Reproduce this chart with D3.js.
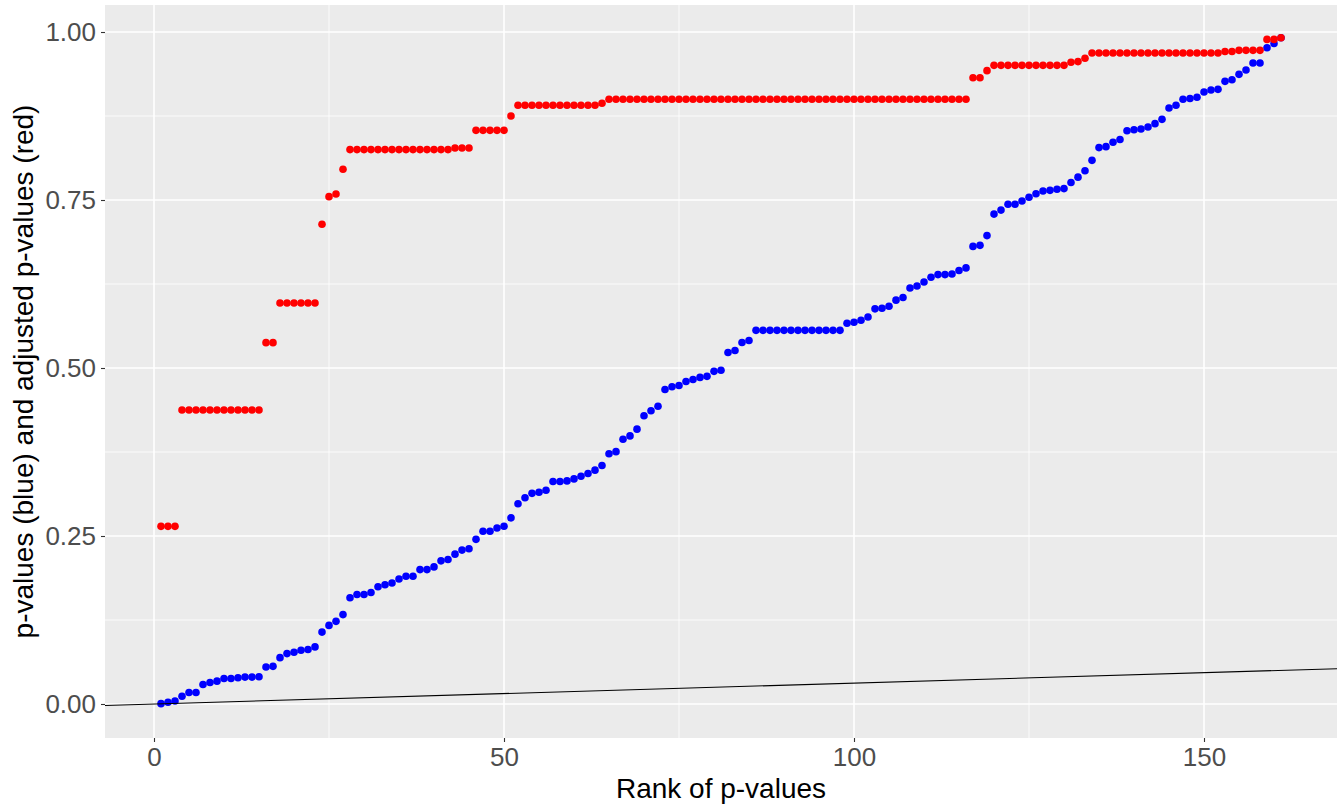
<!DOCTYPE html>
<html>
<head>
<meta charset="utf-8">
<script src="https://cdn.jsdelivr.net/npm/d3@7"></script>
<style>
  html, body { margin: 0; padding: 0; background: #ffffff; }
  svg { display: block; }
  text { font-family: "Liberation Sans", Arial, sans-serif; }
</style>
</head>
<body>
<svg id="chart" width="1342" height="805"></svg>
<script>
// p-values (blue), sorted, rank 1..161
const pValues = [
  0.0005, 0.0025, 0.0045, 0.0115, 0.017, 0.017, 0.029, 0.032, 0.034, 0.038,
  0.038, 0.039, 0.040, 0.040, 0.0405, 0.055, 0.056, 0.069, 0.075, 0.077,
  0.080, 0.081, 0.085, 0.107, 0.117, 0.123, 0.133, 0.158, 0.163, 0.163,
  0.166, 0.1745, 0.1775, 0.180, 0.186, 0.190, 0.190, 0.200, 0.200, 0.204,
  0.213, 0.215, 0.223, 0.229, 0.231, 0.245, 0.257, 0.257, 0.262, 0.2645,
  0.277, 0.298, 0.307, 0.3135, 0.315, 0.318, 0.331, 0.331, 0.332, 0.335,
  0.339, 0.343, 0.348, 0.355, 0.3725, 0.3755, 0.394, 0.399, 0.409, 0.429,
  0.4365, 0.443, 0.468, 0.472, 0.474, 0.480, 0.483, 0.486, 0.4876, 0.495,
  0.4966, 0.523, 0.526, 0.538, 0.541, 0.556, 0.556, 0.556, 0.556, 0.556,
  0.556, 0.556, 0.556, 0.556, 0.556, 0.556, 0.556, 0.556, 0.5665, 0.568,
  0.571, 0.576, 0.588, 0.589, 0.592, 0.601, 0.605, 0.619, 0.622, 0.628,
  0.635, 0.639, 0.639, 0.640, 0.645, 0.649, 0.681, 0.6825, 0.697, 0.729,
  0.735, 0.7436, 0.7436, 0.7485, 0.754, 0.7594, 0.7634, 0.7644, 0.766, 0.767,
  0.776, 0.784, 0.7936, 0.809, 0.828, 0.8294, 0.836, 0.840, 0.853, 0.8546,
  0.8557, 0.8586, 0.8636, 0.870, 0.887, 0.891, 0.900, 0.901, 0.903, 0.9107,
  0.9137, 0.9147, 0.9266, 0.929, 0.937, 0.9435, 0.954, 0.954, 0.9766, 0.983,
  0.9915
];

// adjusted p-values (red), rank 1..161
const adjValues = [
  0.2644, 0.2644, 0.2644, 0.4375, 0.4375, 0.4375, 0.4375, 0.4375, 0.4375, 0.4375,
  0.4375, 0.4375, 0.4375, 0.4375, 0.4375, 0.5377, 0.5377, 0.5967, 0.5967, 0.5967,
  0.5967, 0.5967, 0.5967, 0.714, 0.755, 0.759, 0.7957, 0.825, 0.825, 0.825,
  0.825, 0.825, 0.825, 0.825, 0.825, 0.825, 0.825, 0.825, 0.825, 0.825,
  0.825, 0.825, 0.8274, 0.8274, 0.8274, 0.8537, 0.8537, 0.8537, 0.8537, 0.8537,
  0.875, 0.891, 0.891, 0.891, 0.891, 0.891, 0.891, 0.891, 0.891, 0.891,
  0.891, 0.891, 0.891, 0.894, 0.900, 0.900, 0.900, 0.900, 0.900, 0.900,
  0.900, 0.900, 0.900, 0.900, 0.900, 0.900, 0.900, 0.900, 0.900, 0.900,
  0.900, 0.900, 0.900, 0.900, 0.900, 0.900, 0.900, 0.900, 0.900, 0.900,
  0.900, 0.900, 0.900, 0.900, 0.900, 0.900, 0.900, 0.900, 0.900, 0.900,
  0.900, 0.900, 0.900, 0.900, 0.900, 0.900, 0.900, 0.900, 0.900, 0.900,
  0.900, 0.900, 0.900, 0.900, 0.900, 0.900, 0.932, 0.932, 0.9425, 0.9504,
  0.9504, 0.9504, 0.9504, 0.9504, 0.9504, 0.9504, 0.9504, 0.9504, 0.9504, 0.9504,
  0.955, 0.956, 0.961, 0.9688, 0.9688, 0.9688, 0.9688, 0.9688, 0.9688, 0.9688,
  0.9688, 0.9688, 0.9688, 0.9688, 0.9688, 0.9688, 0.9688, 0.9688, 0.9688, 0.9688,
  0.9688, 0.9688, 0.971, 0.971, 0.9727, 0.9727, 0.9727, 0.9727, 0.989, 0.989,
  0.9915
];

const xTicks = [0, 50, 100, 150];
const xMinor = [25, 75, 125];
const yTicks = [0, 0.25, 0.5, 0.75, 1.0];
const yMinor = [0.125, 0.375, 0.625, 0.875];
const yTickLabels = ["0.00", "0.25", "0.50", "0.75", "1.00"];
const xTitle = "Rank of p-values";
const yTitle = "p-values (blue) and adjusted p-values (red)";
const alpha = 0.05; // reference line slope numerator: alpha / n

const n = pValues.length;
const svg = d3.select("#chart");

const panel = { left: 105, right: 1337, top: 5, bottom: 738 };
const x = d3.scaleLinear().domain([-7, 169]).range([panel.left, panel.right]);
const y = d3.scaleLinear().domain([-0.0506, 1.0402]).range([panel.bottom, panel.top]);

// panel background
svg.append("rect")
  .attr("x", panel.left).attr("y", panel.top)
  .attr("width", panel.right - panel.left).attr("height", panel.bottom - panel.top)
  .attr("fill", "#EBEBEB");

const grid = svg.append("g");
grid.selectAll(".yminor").data(yMinor).join("line")
  .attr("x1", panel.left).attr("x2", panel.right)
  .attr("y1", d => y(d)).attr("y2", d => y(d))
  .attr("stroke", "#ffffff").attr("stroke-width", 0.8);
grid.selectAll(".xminor").data(xMinor).join("line")
  .attr("y1", panel.top).attr("y2", panel.bottom)
  .attr("x1", d => x(d)).attr("x2", d => x(d))
  .attr("stroke", "#ffffff").attr("stroke-width", 0.8);
grid.selectAll(".ymajor").data(yTicks).join("line")
  .attr("x1", panel.left).attr("x2", panel.right)
  .attr("y1", d => y(d)).attr("y2", d => y(d))
  .attr("stroke", "#ffffff").attr("stroke-width", 1.6);
grid.selectAll(".xmajor").data(xTicks).join("line")
  .attr("y1", panel.top).attr("y2", panel.bottom)
  .attr("x1", d => x(d)).attr("x2", d => x(d))
  .attr("stroke", "#ffffff").attr("stroke-width", 1.6);

// axes
const xAxis = d3.axisBottom(x).tickValues(xTicks).tickSize(4).tickPadding(6).tickFormat(d3.format("d"));
const yAxis = d3.axisLeft(y).tickValues(yTicks).tickSize(4).tickPadding(5)
  .tickFormat((d, i) => yTickLabels[i]);

const gx = svg.append("g").attr("transform", `translate(0,${panel.bottom})`).call(xAxis);
const gy = svg.append("g").attr("transform", `translate(${panel.left},0)`).call(yAxis);
[gx, gy].forEach(g => {
  g.select(".domain").remove();
  g.selectAll(".tick line").attr("stroke", "#333333").attr("stroke-width", 1.1);
  g.selectAll(".tick text")
    .attr("fill", "#4D4D4D")
    .style("font-size", "26px")
    .style("font-family", "'Liberation Sans', Arial, sans-serif");
});

// points
const ptsBlue = pValues.map((v, i) => ({ rank: i + 1, v }));
const ptsRed = adjValues.map((v, i) => ({ rank: i + 1, v }));

svg.append("g").selectAll("circle").data(ptsBlue).join("circle")
  .attr("cx", d => x(d.rank)).attr("cy", d => y(d.v))
  .attr("r", 3.8).attr("fill", "#0000FF");
svg.append("g").selectAll("circle").data(ptsRed).join("circle")
  .attr("cx", d => x(d.rank)).attr("cy", d => y(d.v))
  .attr("r", 3.8).attr("fill", "#FF0000");

// reference line y = alpha * rank / n
const xd = x.domain();
svg.append("line")
  .attr("x1", x(xd[0])).attr("y1", y(alpha * xd[0] / n))
  .attr("x2", x(xd[1])).attr("y2", y(alpha * xd[1] / n))
  .attr("stroke", "#000000").attr("stroke-width", 1.1);

// titles
svg.append("text")
  .attr("x", (panel.left + panel.right) / 2).attr("y", 798)
  .attr("text-anchor", "middle")
  .style("font-size", "28px").attr("fill", "#000000")
  .text(xTitle);

svg.append("text")
  .attr("transform", `translate(33,${(panel.top + panel.bottom) / 2}) rotate(-90)`)
  .attr("text-anchor", "middle")
  .style("font-size", "28px").attr("fill", "#000000")
  .text(yTitle);
</script>
</body>
</html>
